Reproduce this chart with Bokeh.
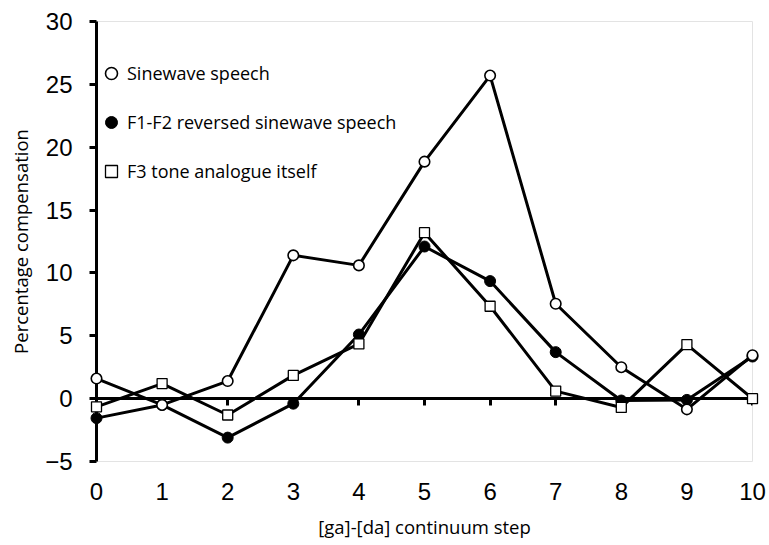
from bokeh.plotting import figure
from bokeh.models import LinearAxis, FixedTicker, Legend, LegendItem, Range1d
from bokeh.embed import file_html
from bokeh.resources import INLINE

steps = [0, 1, 2, 3, 4, 5, 6, 7, 8, 9, 10]
sinewave = [1.6, -0.5, 1.4, 11.4, 10.6, 18.85, 25.7, 7.55, 2.5, -0.85, 3.45]
reversed_sw = [-1.55, -0.5, -3.1, -0.4, 5.1, 12.1, 9.35, 3.7, -0.15, -0.1, 3.35]
f3_tone = [-0.65, 1.2, -1.3, 1.85, 4.35, 13.2, 7.35, 0.6, -0.7, 4.3, 0.0]
y_ticks = [-5, 0, 5, 10, 15, 20, 25, 30]
labels = ["Sinewave speech", "F1-F2 reversed sinewave speech", "F3 tone analogue itself"]

p = figure(width=769, height=545, output_backend="svg", toolbar_location=None,
           x_range=Range1d(0, 10), y_range=Range1d(-5, 30),
           min_border_left=96, min_border_right=17, min_border_top=21, min_border_bottom=84)
p.xgrid.visible = False
p.ygrid.visible = False
p.outline_line_color = "#e3e3e3"
p.outline_line_width = 1
p.background_fill_color = "white"
p.border_fill_color = "white"

yax = p.yaxis[0]
yax.ticker = FixedTicker(ticks=y_ticks)
yax.axis_line_width = 3
yax.axis_line_color = "black"
yax.major_tick_line_width = 3
yax.major_tick_line_color = "black"
yax.major_tick_out = 7
yax.major_tick_in = 0
yax.minor_tick_line_color = None
yax.major_label_text_font = "Liberation Sans"
yax.major_label_text_font_size = "24px"
yax.major_label_text_color = "black"
yax.major_label_standoff = 17
yax.axis_label = "Percentage compensation"
yax.axis_label_text_font = "Open Sans"
yax.axis_label_text_font_size = "18.5px"
yax.axis_label_text_font_style = "normal"
yax.axis_label_text_color = "black"
yax.axis_label_standoff = 9

xax = p.xaxis[0]
xax.ticker = FixedTicker(ticks=steps)
xax.axis_line_color = None
xax.major_tick_line_color = None
xax.major_tick_out = 0
xax.major_tick_in = 0
xax.minor_tick_line_color = None
xax.major_label_text_font = "Liberation Sans"
xax.major_label_text_font_size = "24px"
xax.major_label_text_color = "black"
xax.major_label_standoff = 21
xax.axis_label = "[ga]-[da] continuum step"
xax.axis_label_text_font = "Open Sans"
xax.axis_label_text_font_size = "18.5px"
xax.axis_label_text_font_style = "normal"
xax.axis_label_text_color = "black"
xax.axis_label_standoff = 11

zax = LinearAxis(fixed_location=0, ticker=FixedTicker(ticks=steps),
                 axis_line_width=3, axis_line_color="black",
                 major_tick_line_width=3, major_tick_line_color="black",
                 major_tick_in=7, major_tick_out=0, minor_tick_line_color=None,
                 major_label_text_font_size="0px", major_label_standoff=0,
                 major_label_overrides={s: "" for s in steps})
p.add_layout(zax, "above")

p.line(steps, sinewave, line_color="black", line_width=3)
p.line(steps, reversed_sw, line_color="black", line_width=3)
p.line(steps, f3_tone, line_color="black", line_width=3)

r_rev = p.scatter(steps, reversed_sw, marker="circle", size=11, fill_color="black",
                  line_color="black", line_width=1, level="annotation")
r_sine = p.scatter(steps, sinewave, marker="circle", size=10.5, fill_color="white",
                   line_color="black", line_width=1.6, level="annotation")
r_f3 = p.scatter(steps, f3_tone, marker="square", size=10, fill_color="white",
                 line_color="black", line_width=1.3, level="annotation")

legend = Legend(items=[LegendItem(label=labels[0], renderers=[r_sine]),
                       LegendItem(label=labels[1], renderers=[r_rev]),
                       LegendItem(label=labels[2], renderers=[r_f3])],
                location=(0, 275), glyph_width=30, glyph_height=30, label_height=30,
                spacing=19, padding=0, margin=0, label_standoff=1,
                border_line_color=None, background_fill_alpha=0,
                label_text_font="Open Sans", label_text_font_size="18px",
                label_text_color="black")
p.add_layout(legend)

open("out.html", "w").write(file_html(p, INLINE))
